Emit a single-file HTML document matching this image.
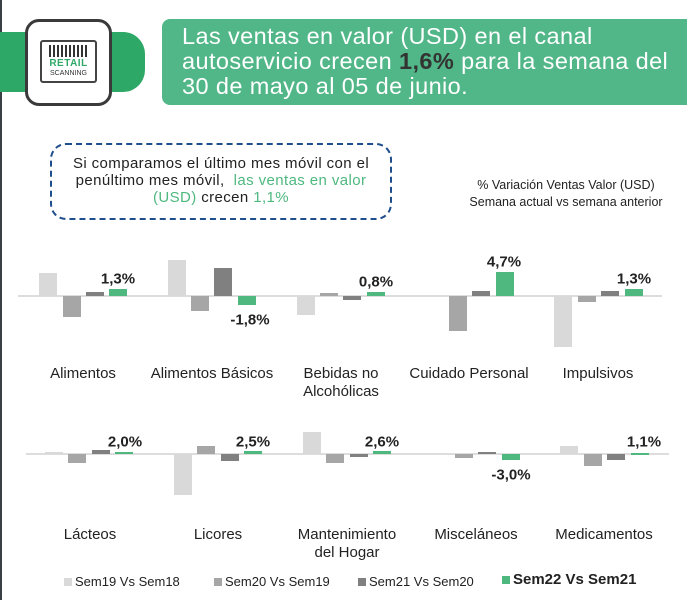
<!DOCTYPE html>
<html><head><meta charset="utf-8"><style>
*{margin:0;padding:0;box-sizing:border-box}
body{width:687px;height:600px;background:#fff;position:relative;overflow:hidden;font-family:"Liberation Sans",sans-serif;color:#222}
.a{position:absolute}
.b{position:absolute}
.l{background:#d9d9d9}.m{background:#a6a6a6}.d{background:#808080}.g{background:#4fb87f}
.v{position:absolute;font-size:15px;font-weight:bold;transform:translate(-50%,-50%);white-space:nowrap;color:#222}
.c{position:absolute;font-size:15px;transform:translateX(-50%);text-align:center;line-height:18px;white-space:nowrap;color:#222}
.lg{position:absolute;top:574px;font-size:13px;white-space:nowrap;line-height:16px}
.lg i{display:inline-block;width:8px;height:8px;margin-right:3px;vertical-align:0}
</style></head><body>
<div class="a" style="left:0;top:0;width:2px;height:600px;background:#3a3f44"></div>
<div class="a" style="left:0;top:32px;width:145px;height:60px;background:#2ea866;border-radius:0 22px 22px 0"></div>
<div class="a" style="left:25px;top:19px;width:87px;height:87px;background:#fff;border:3px solid #3a3a3a;border-radius:14px"></div>
<div class="a" style="left:40px;top:40px;width:57px;height:43px;border:2px solid #444;border-radius:3px;background:#fff;text-align:center">
 <div style="margin:3px auto 0;width:40px;height:12px;background:repeating-linear-gradient(90deg,#333 0 2px,transparent 2px 4px)"></div>
 <div style="font-size:10px;font-weight:bold;color:#2ea866;line-height:11px;letter-spacing:0.5px;margin-top:1px">RETAIL</div>
 <div style="font-size:7px;color:#333;line-height:9px">SCANNING</div>
</div>
<div class="a" style="left:162px;top:19px;width:525px;height:86px;background:#52b788;border-radius:8px 0 0 8px"></div>
<div class="a" style="left:182px;top:24px;font-size:23.5px;line-height:25px;color:#fff;white-space:nowrap;letter-spacing:0.4px">Las ventas en valor (USD) en el canal<br>autoservicio crecen <b style="color:#333">1,6%</b> para la semana del<br>30 de mayo al 05 de junio.</div>
<div class="a" style="left:50px;top:143px;width:342px;height:77px;border:2px dashed #1f4e8c;border-radius:16px"></div>
<div class="a" style="left:50px;top:155px;width:342px;text-align:center;font-size:15px;line-height:17px;color:#222;letter-spacing:0.4px">Si comparamos el último mes móvil con el<br>penúltimo mes móvil, &nbsp;<span style="color:#4fb87f">las ventas en valor<br>(USD)</span> crecen <span style="color:#4fb87f">1,1%</span></div>
<div class="a" style="left:466px;top:177px;width:200px;text-align:center;font-size:12.5px;line-height:17px;color:#222">% Variación Ventas Valor (USD)<br>Semana actual vs semana anterior</div>

<div class="a" style="left:18px;top:295px;width:644px;height:2px;background:#ddd"></div>
<div class="b l" style="left:39px;top:273px;width:18px;height:23px"></div>
<div class="b m" style="left:63px;top:296px;width:18px;height:21px"></div>
<div class="b d" style="left:86px;top:292px;width:18px;height:4px"></div>
<div class="b g" style="left:109px;top:289px;width:18px;height:7px"></div>
<div class="b l" style="left:168px;top:260px;width:18px;height:36px"></div>
<div class="b m" style="left:191px;top:296px;width:18px;height:15px"></div>
<div class="b d" style="left:214px;top:268px;width:18px;height:28px"></div>
<div class="b g" style="left:238px;top:296px;width:18px;height:9px"></div>
<div class="b l" style="left:297px;top:296px;width:18px;height:19px"></div>
<div class="b m" style="left:320px;top:293px;width:18px;height:3px"></div>
<div class="b d" style="left:343px;top:296px;width:18px;height:4px"></div>
<div class="b g" style="left:367px;top:292px;width:18px;height:4px"></div>
<div class="b m" style="left:449px;top:296px;width:18px;height:35px"></div>
<div class="b d" style="left:472px;top:291px;width:18px;height:5px"></div>
<div class="b g" style="left:496px;top:272px;width:18px;height:24px"></div>
<div class="b l" style="left:554px;top:296px;width:18px;height:51px"></div>
<div class="b m" style="left:578px;top:296px;width:18px;height:6px"></div>
<div class="b d" style="left:601px;top:291px;width:18px;height:5px"></div>
<div class="b g" style="left:625px;top:289px;width:18px;height:7px"></div>
<div class="v" style="left:118px;top:279px">1,3%</div>
<div class="v" style="left:250px;top:320px">-1,8%</div>
<div class="v" style="left:376px;top:282px">0,8%</div>
<div class="v" style="left:504px;top:262px">4,7%</div>
<div class="v" style="left:634px;top:279px">1,3%</div>
<div class="c" style="left:83px;top:365px">Alimentos</div>
<div class="c" style="left:212px;top:365px">Alimentos Básicos</div>
<div class="c" style="left:341px;top:365px">Bebidas no<br>Alcohólicas</div>
<div class="c" style="left:469px;top:365px">Cuidado Personal</div>
<div class="c" style="left:598px;top:365px">Impulsivos</div>

<div class="a" style="left:26px;top:453px;width:643px;height:2px;background:#ddd"></div>
<div class="b l" style="left:45px;top:452px;width:18px;height:2px"></div>
<div class="b m" style="left:68px;top:454px;width:18px;height:9px"></div>
<div class="b d" style="left:92px;top:450px;width:18px;height:4px"></div>
<div class="b g" style="left:115px;top:452px;width:18px;height:2px"></div>
<div class="b l" style="left:174px;top:454px;width:18px;height:41px"></div>
<div class="b m" style="left:197px;top:446px;width:18px;height:8px"></div>
<div class="b d" style="left:221px;top:454px;width:18px;height:7px"></div>
<div class="b g" style="left:244px;top:451px;width:18px;height:3px"></div>
<div class="b l" style="left:303px;top:432px;width:18px;height:22px"></div>
<div class="b m" style="left:326px;top:454px;width:18px;height:9px"></div>
<div class="b d" style="left:350px;top:454px;width:18px;height:3px"></div>
<div class="b g" style="left:373px;top:451px;width:18px;height:3px"></div>
<div class="b m" style="left:455px;top:454px;width:18px;height:4px"></div>
<div class="b d" style="left:478px;top:452px;width:18px;height:2px"></div>
<div class="b g" style="left:502px;top:454px;width:18px;height:6px"></div>
<div class="b l" style="left:560px;top:446px;width:18px;height:8px"></div>
<div class="b m" style="left:584px;top:454px;width:18px;height:12px"></div>
<div class="b d" style="left:607px;top:454px;width:18px;height:6px"></div>
<div class="b g" style="left:631px;top:453px;width:18px;height:2px"></div>
<div class="v" style="left:125px;top:442px">2,0%</div>
<div class="v" style="left:253px;top:442px">2,5%</div>
<div class="v" style="left:382px;top:442px">2,6%</div>
<div class="v" style="left:511px;top:475px">-3,0%</div>
<div class="v" style="left:644px;top:442px">1,1%</div>
<div class="c" style="left:90px;top:526px">Lácteos</div>
<div class="c" style="left:218px;top:526px">Licores</div>
<div class="c" style="left:347px;top:526px">Mantenimiento<br>del Hogar</div>
<div class="c" style="left:476px;top:526px">Misceláneos</div>
<div class="c" style="left:604px;top:526px">Medicamentos</div>

<div class="lg" style="left:64px"><i class="l"></i>Sem19 Vs Sem18</div>
<div class="lg" style="left:214px"><i class="m"></i>Sem20 Vs Sem19</div>
<div class="lg" style="left:358px"><i class="d"></i>Sem21 Vs Sem20</div>
<div class="lg" style="left:502px;font-size:15px;font-weight:bold;top:572px"><i class="g"></i>Sem22 Vs Sem21</div>
</body></html>
